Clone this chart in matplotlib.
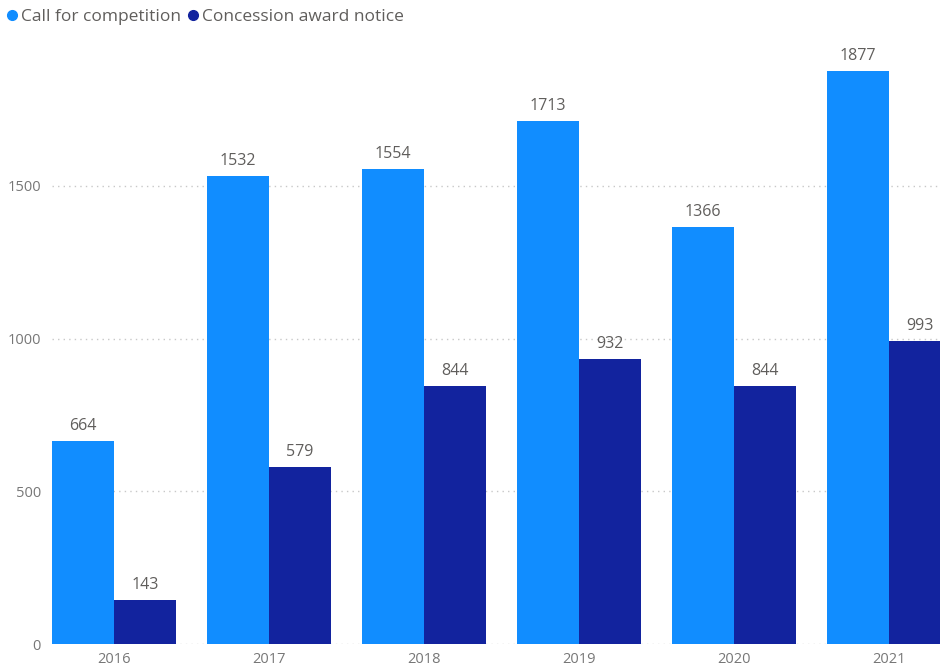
import numpy as np
import matplotlib.pyplot as plt
from matplotlib.lines import Line2D

# data
years = ['2016', '2017', '2018', '2019', '2020', '2021']
call_for_competition = [664, 1532, 1554, 1713, 1366, 1877]
concession_award = [143, 579, 844, 932, 844, 993]

c_light = '#118DFF'
c_dark = '#12239E'
txt = '#605E5C'

plt.rcParams['font.family'] = ['Open Sans', 'DejaVu Sans']

fig = plt.figure(figsize=(9.4, 6.7), dpi=100)
ax = fig.add_axes([52 / 940, 26 / 670, 888 / 940, 611 / 670])

x = np.arange(len(years))
w = 0.4
b1 = ax.bar(x - w / 2, call_for_competition, w, color=c_light, zorder=2)
b2 = ax.bar(x + w / 2, concession_award, w, color=c_dark, zorder=2)

for bars in (b1, b2):
    for r in bars:
        ax.annotate(f'{int(r.get_height())}', (r.get_x() + r.get_width() / 2, r.get_height()),
                    xytext=(0, 5), textcoords='offset points', ha='center', va='bottom',
                    fontsize=11.5, color=txt)

ax.set_xlim(-0.4, 5.33)
ax.set_ylim(0, 2000)
ax.set_yticks([0, 500, 1000, 1500])
ax.set_xticks(x)
ax.set_xticklabels(years)
ax.tick_params(length=0, labelsize=10.5, colors='#777777')
ax.tick_params(axis='y', pad=8)
ax.tick_params(axis='x', pad=6)
ax.grid(axis='y', linestyle=(0, (1, 3)), color='#C8C8C8', linewidth=1, zorder=0)
for s in ax.spines.values():
    s.set_visible(False)
for lab in ax.get_xticklabels() + ax.get_yticklabels():
    lab.set_color('#777777')

handles = [Line2D([], [], marker='o', linestyle='none', color=c_light, markersize=7),
           Line2D([], [], marker='o', linestyle='none', color=c_dark, markersize=7)]
fig.legend(handles, ['Call for competition', 'Concession award notice'],
           loc='upper left', bbox_to_anchor=(-0.013, 1.01), ncol=2, frameon=False,
           handletextpad=0.0, columnspacing=0.2, handlelength=1.0,
           fontsize=12.5, labelcolor=txt)

fig.savefig('out.png', dpi=100)
